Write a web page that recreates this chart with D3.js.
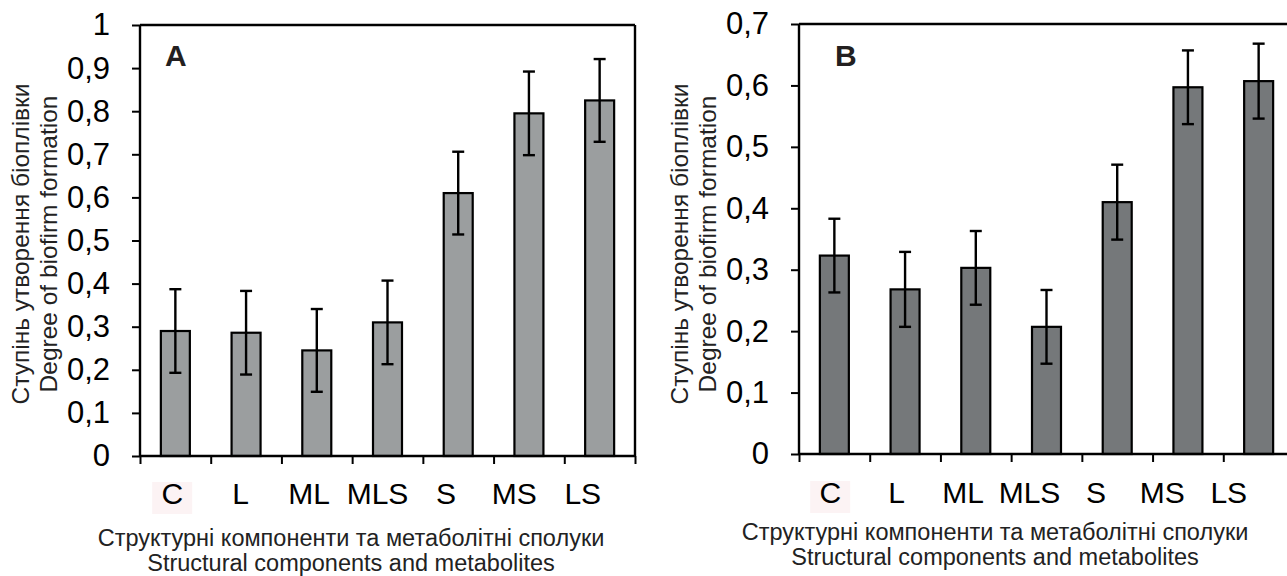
<!DOCTYPE html>
<html>
<head>
<meta charset="utf-8">
<script src="https://cdn.jsdelivr.net/npm/d3@7"></script>
<style>
  body { margin: 0; background: #fff; }
  svg { font-family: "Liberation Sans", Arial, sans-serif; display: block; }
</style>
</head>
<body>
<svg id="chart" width="1287" height="576"></svg>
<script>
const categories = ["C", "L", "ML", "MLS", "S", "MS", "LS"]

// panel A
const valuesA = [0.29, 0.286, 0.245, 0.31, 0.61, 0.795, 0.825]
const errorsA = [0.097, 0.097, 0.096, 0.097, 0.096, 0.097, 0.096]
const ticksA = [0, 0.1, 0.2, 0.3, 0.4, 0.5, 0.6, 0.7, 0.8, 0.9, 1]

// panel B
const valuesB = [0.323, 0.268, 0.303, 0.207, 0.41, 0.597, 0.607]
const errorsB = [0.06, 0.061, 0.06, 0.06, 0.061, 0.06, 0.061]
const ticksB = [0, 0.1, 0.2, 0.3, 0.4, 0.5, 0.6, 0.7]

const yTitle = ["Ступінь утворення біоплівки", "Degree of biofirm formation"]
const xTitle = ["Структурні компоненти та метаболітні сполуки", "Structural components and metabolites"]

const svg = d3.select("#chart")
const fmt = d => String(+d.toFixed(1)).replace(".", ",")

const drawPanel = (p) => {
  const g = svg.append("g")

  const x = d3.scaleBand().domain(categories).range([p.left, p.right]).paddingInner(0.59).paddingOuter(0.295)
  const xEdge = d3.scaleLinear().domain([0, categories.length]).range([p.left, p.right])
  const xLab = d3.scaleBand().domain(categories).range(p.labRange)
  const y = d3.scaleLinear().domain([0, p.max]).range([p.bottom, p.top])

  // frame
  g.append("line").attr("x1", p.left).attr("x2", p.right).attr("y1", p.top).attr("y2", p.top)
    .attr("stroke", "#000").attr("stroke-width", 2.4)
  g.append("line").attr("x1", p.right).attr("x2", p.right).attr("y1", p.top).attr("y2", p.bottom)
    .attr("stroke", "#000").attr("stroke-width", 2.4)

  // bars
  g.selectAll(".bar").data(p.values).enter()
    .append("rect")
    .attr("class", "bar")
    .attr("x", (d, i) => x(categories[i]))
    .attr("width", x.bandwidth())
    .attr("y", d => y(d))
    .attr("height", d => y(0) - y(d))
    .attr("fill", p.fill)
    .attr("stroke", "#000")
    .attr("stroke-width", 2.2)

  // error bars
  const eb = g.selectAll(".err").data(p.values).enter().append("g").attr("class", "err")
    .attr("transform", (d, i) => `translate(${x(categories[i]) + x.bandwidth() / 2},0)`)
    .attr("stroke", "#000").attr("stroke-width", 2.4)
  eb.append("line").attr("y1", (d, i) => y(d + p.errors[i])).attr("y2", (d, i) => y(d - p.errors[i]))
  eb.append("line").attr("x1", -6).attr("x2", 6).attr("y1", (d, i) => y(d + p.errors[i])).attr("y2", (d, i) => y(d + p.errors[i]))
  eb.append("line").attr("x1", -6).attr("x2", 6).attr("y1", (d, i) => y(d - p.errors[i])).attr("y2", (d, i) => y(d - p.errors[i]))

  // y axis
  const ya = g.append("g").attr("transform", `translate(${p.left},0)`)
    .call(d3.axisLeft(y).tickValues(p.ticks).tickSize(8).tickPadding(22).tickFormat(fmt))
  ya.select(".domain").attr("stroke-width", 2.4).attr("d", `M-0,${p.bottom}V${p.top}`)
  ya.selectAll(".tick line").attr("stroke-width", 2)
  ya.selectAll(".tick text").attr("font-size", 31).attr("fill", "#000").attr("font-family", null)

  // x axis, ticks at band edges
  const xa = g.append("g").attr("transform", `translate(0,${p.bottom})`)
    .call(d3.axisBottom(xEdge).tickValues(d3.range(categories.length + 1)).tickSize(8).tickFormat(""))
  xa.select(".domain").attr("stroke-width", 2.4).attr("d", `M${p.left},0H${p.right}`)
  xa.selectAll(".tick line").attr("stroke-width", 2)

  // faint highlight behind the first label
  g.append("rect")
    .attr("x", xLab(categories[0]) + xLab.bandwidth() / 2 - 20)
    .attr("y", p.labY - 22)
    .attr("width", 40).attr("height", 32)
    .attr("fill", "#fcf3f4")

  g.selectAll(".cat").data(categories).enter()
    .append("text")
    .attr("class", "cat")
    .attr("x", d => xLab(d) + xLab.bandwidth() / 2)
    .attr("y", p.labY)
    .attr("text-anchor", "middle")
    .attr("font-size", 30)
    .text(d => d)

  // panel letter
  g.append("text").attr("x", p.letterX).attr("y", 66)
    .attr("font-size", 30).attr("font-weight", "bold").attr("fill", "#231f20")
    .text(p.letter)

  // axis titles
  yTitle.forEach((t, i) => {
    g.append("text")
      .attr("transform", `translate(${p.left - 111 + i * 28},244) rotate(-90)`)
      .attr("text-anchor", "middle")
      .attr("font-size", 24.5)
      .attr("fill", "#222")
      .text(t)
  })
  xTitle.forEach((t, i) => {
    g.append("text")
      .attr("x", p.titleX)
      .attr("y", p.titleY + i * 25)
      .attr("text-anchor", "middle")
      .attr("font-size", 23.5)
      .attr("fill", "#222")
      .text(t)
  })
}

drawPanel({
  left: 140, right: 635, top: 25, bottom: 456, max: 1,
  values: valuesA, errors: errorsA, ticks: ticksA, fill: "#9b9e9f",
  labRange: [138, 617], labY: 504, letter: "A", letterX: 165,
  titleX: 351, titleY: 546
})

drawPanel({
  left: 799, right: 1294, top: 24, bottom: 454, max: 0.7,
  values: valuesB, errors: errorsB, ticks: ticksB, fill: "#75787a",
  labRange: [797, 1262], labY: 503, letter: "B", letterX: 835,
  titleX: 995, titleY: 540
})
</script>
</body>
</html>
